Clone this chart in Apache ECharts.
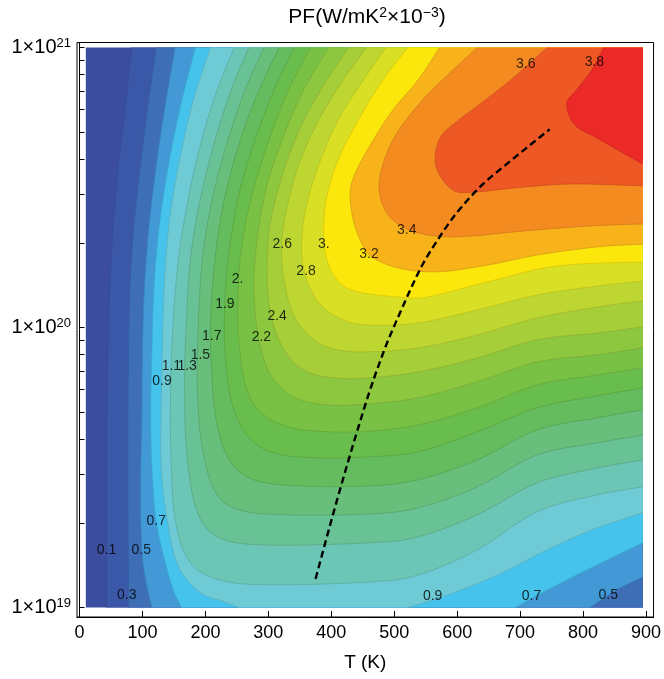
<!DOCTYPE html>
<html>
<head>
<meta charset="utf-8">
<script src="https://cdn.jsdelivr.net/npm/echarts@6/dist/echarts.min.js"></script>
<style>
html, body { margin: 0; padding: 0; background: #fff; }
#chart { width: 664px; height: 679px; }
</style>
</head>
<body>
<div id="chart"></div>
<script>
// Power factor PF (W/mK^2 x 1e-3) versus temperature T (K) and log10 of carrier density n (cm^-3)

// contour levels and the fill of the band above each level (first entry: below the lowest level)
const levels = [0.1, 0.3, 0.5, 0.7, 0.9, 1.1, 1.3, 1.5, 1.7, 1.9, 2.0, 2.2, 2.4, 2.6, 2.8, 3.0, 3.2, 3.4, 3.6, 3.8];
const bandColors = ['#3b4d9e', '#3b58a8', '#3e6fb6', '#4299d5', '#45c3ec', '#6ecbd6', '#6cc6b6', '#69c196',
  '#68be7b', '#64bc5e', '#69bd4c', '#78c144', '#8dc63f', '#a5ce39', '#bed631', '#d8df24', '#fbe70c',
  '#f9b31a', '#f48b20', '#ee5824', '#eb2a27'];

// computed domain: T (K) and log10 n
const tRange = [10, 895];
const nRange = [19, 21];

// contour lines as [T, log10 n]
const pf01 = [[83,21],[72,20.777],[61,20.563],[53,20.349],[48,20.134],[45,19.92],[43,19.563],[43,19]];
const pf03 = [[122,21],[108,20.777],[96,20.563],[86,20.349],[80,20.134],[78,19.92],[77,19.67],[77,19.384],[78,19]];
const pf05 = [[152,21],[135,20.777],[121,20.563],[110,20.349],[103,20.134],[100,19.92],[99,19.67],[97,19.42],[99,19.206],[105,19.099],[115,19]];
const pf05b = [[811,19],[853,19.063],[895,19.109]];
const pf07 = [[184,21],[159,20.777],[140,20.563],[126,20.349],[118,20.134],[115,19.92],[113,19.67],[116,19.456],[122,19.306],[135,19.17],[149,19.063],[162,19]];
const pf07b = [[692,19],[759,19.081],[822,19.152],[895,19.231]];
const pf09 = [[208,21],[181,20.813],[159,20.599],[143,20.384],[135,20.17],[132,19.956],[130,19.741],[130,19.491],[140,19.306],[156,19.152],[190,19.056],[230,19.02],[253,19]];
const pf09b = [[522,19],[585,19.045],[664,19.116],[743,19.206],[822,19.284],[895,19.338]];
const pf11 = [[246,21],[216,20.831],[190,20.634],[171,20.438],[157,20.241],[149,20.027],[145,19.813],[145,19.563],[152,19.313],[175,19.163],[222,19.099],[301,19.081],[459,19.091],[538,19.116],[632,19.206],[727,19.342],[822,19.402],[895,19.431]];
const pf13 = [[269,21],[238,20.831],[211,20.634],[190,20.438],[176,20.241],[170,20.027],[167,19.813],[170,19.563],[186,19.349],[222,19.249],[301,19.223],[459,19.231],[538,19.252],[632,19.331],[727,19.445],[822,19.498],[895,19.527]];
const pf15 = [[293,21],[260,20.831],[231,20.634],[209,20.438],[195,20.241],[189,20.027],[187,19.813],[193,19.599],[214,19.42],[253,19.349],[332,19.331],[459,19.334],[538,19.356],[632,19.431],[727,19.545],[822,19.588],[895,19.616]];
const pf17 = [[317,21],[282,20.831],[253,20.652],[230,20.456],[216,20.259],[209,20.063],[209,19.884],[217,19.67],[238,19.527],[277,19.456],[348,19.434],[459,19.434],[538,19.456],[632,19.527],[727,19.634],[822,19.677],[895,19.706]];
const pf19 = [[342,21],[309,20.849],[279,20.67],[253,20.474],[238,20.277],[231,20.099],[231,19.92],[241,19.741],[266,19.616],[309,19.552],[380,19.534],[459,19.538],[538,19.556],[632,19.627],[727,19.713],[822,19.756],[895,19.784]];
const pf20 = [[367,21],[332,20.849],[301,20.67],[274,20.474],[258,20.295],[252,20.134],[253,19.956],[266,19.777],[293,19.688],[340,19.641],[403,19.627],[459,19.63],[538,19.652],[632,19.713],[727,19.795],[822,19.83],[895,19.856]];
const pf22 = [[396,21],[356,20.849],[325,20.688],[298,20.509],[282,20.313],[277,20.134],[285,19.956],[304,19.83],[340,19.752],[396,19.723],[459,19.727],[538,19.749],[632,19.806],[727,19.877],[822,19.902],[895,19.927]];
const pf24 = [[427,21],[388,20.866],[353,20.724],[325,20.563],[304,20.384],[298,20.206],[304,20.045],[325,19.92],[356,19.848],[403,19.82],[459,19.82],[538,19.841],[632,19.891],[727,19.956],[822,19.98],[895,20.002]];
const pf26 = [[456,21],[419,20.884],[380,20.741],[348,20.58],[329,20.42],[321,20.295],[325,20.17],[340,20.045],[372,19.956],[411,19.92],[459,19.913],[538,19.927],[632,19.973],[727,20.034],[822,20.073],[895,20.095]];
const pf28 = [[487,21],[451,20.884],[411,20.741],[380,20.58],[359,20.42],[353,20.277],[361,20.17],[383,20.081],[419,20.027],[459,20.009],[538,20.016],[632,20.063],[727,20.116],[822,20.148],[895,20.166]];
const pf30 = [[522,21],[482,20.884],[443,20.741],[411,20.599],[392,20.456],[388,20.313],[396,20.223],[414,20.159],[443,20.127],[506,20.109],[553,20.109],[648,20.163],[759,20.22],[895,20.234]];
const pf32 = [[572,21],[538,20.884],[498,20.777],[462,20.652],[437,20.545],[430,20.474],[435,20.384],[446,20.313],[462,20.256],[506,20.213],[569,20.199],[648,20.223],[727,20.259],[822,20.288],[895,20.298]];
const pf34 = [[632,21],[585,20.902],[538,20.795],[498,20.67],[478,20.545],[479,20.456],[498,20.384],[538,20.338],[601,20.324],[707,20.345],[811,20.363],[895,20.37]];
const pf36 = [[743,21],[691,20.895],[643,20.809],[601,20.738],[574,20.681],[565,20.602],[574,20.538],[596,20.488],[628,20.484],[707,20.502],[786,20.513],[895,20.506]];
const pf38 = [[833,21],[814,20.92],[790,20.849],[774,20.799],[787,20.724],[822,20.677],[861,20.627],[895,20.584]];

// pieces of each level, in the order of the levels array
const contourPieces = [[pf01], [pf03], [pf05, pf05b], [pf07, pf07b], [pf09, pf09b], [pf11], [pf13], [pf15],
  [pf17], [pf19], [pf20], [pf22], [pf24], [pf26], [pf28], [pf30], [pf32], [pf34], [pf36], [pf38]];

// optimum-doping path (dashed)
const optimalPath = [[375,19.102],[396,19.277],[416,19.438],[437,19.599],[459,19.759],[479,19.888],[498,19.995],
  [540,20.203],[572,20.323],[601,20.414],[638,20.506],[675,20.577],[711,20.643],[747,20.708]];

// contour labels: [T, log10 n, text]
const contourLabels = [
  [43,19.206,'0.1'], [75,19.045,'0.3'], [98,19.206,'0.5'], [122,19.307,'0.7'], [131,19.807,'0.9'],
  [146,19.862,'1.1'], [171,19.862,'1.3'], [192,19.902,'1.5'], [210,19.970,'1.7'], [231,20.084,'1.9'],
  [251,20.172,'2.'], [289,19.965,'2.2'], [314,20.039,'2.4'], [322,20.299,'2.6'], [360,20.202,'2.8'],
  [388,20.299,'3.'], [460,20.262,'3.2'], [520,20.346,'3.4'], [709,20.939,'3.6'], [818,20.948,'3.8'],
  [561,19.039,'0.9'], [718,19.041,'0.7'], [840,19.045,'0.5']
];

// axis ticks
const tTicks = [0, 100, 200, 300, 400, 500, 600, 700, 800, 900];
const nDecades = [1e19, 1e20, 1e21];
const nMinorTicks = [];
[1e19, 1e20].forEach(d => { for (let k = 1; k < 10; k++) nMinorTicks.push(k * d); });
nMinorTicks.push(1e21);

const FONT = "'Liberation Sans', Arial, sans-serif";

function smoothPath(pts, n) {
  if (pts.length < 3) return pts.slice();
  const out = [];
  for (let i = 0; i < pts.length - 1; i++) {
    const p0 = pts[i - 1] || pts[i], p1 = pts[i], p2 = pts[i + 1], p3 = pts[i + 2] || pts[i + 1];
    for (let k = 0; k < n; k++) {
      const t = k / n, t2 = t * t, t3 = t2 * t;
      out.push([0, 1].map(d => 0.5 * (2 * p1[d] + (p2[d] - p0[d]) * t +
        (2 * p0[d] - 5 * p1[d] + 4 * p2[d] - p3[d]) * t2 +
        (3 * p1[d] - p0[d] - 3 * p2[d] + p3[d]) * t3)));
    }
  }
  out.push(pts[pts.length - 1]);
  return out;
}

function darken(hex, f) {
  const v = parseInt(hex.slice(1), 16);
  const r = Math.round(((v >> 16) & 255) * f), g = Math.round(((v >> 8) & 255) * f), b = Math.round((v & 255) * f);
  return 'rgb(' + r + ',' + g + ',' + b + ')';
}

function renderContours(params, api) {
  const children = [];
  const toPx = p => api.coord(p);
  const bl = api.coord([tRange[0], nRange[0]]);
  const tr = api.coord([tRange[1], nRange[1]]);
  children.push({ type: 'rect', shape: { x: bl[0], y: tr[1], width: tr[0] - bl[0], height: bl[1] - tr[1] },
    style: { fill: bandColors[0] } });
  contourPieces.forEach((pieces, i) => {
    const fill = bandColors[i + 1];
    let poly = [];
    const strokes = [];
    pieces.forEach(piece => {
      const sm = smoothPath(piece.map(toPx), 8);
      strokes.push(sm);
      poly = poly.concat(sm);
    });
    const last = pieces[pieces.length - 1];
    if (last[last.length - 1][1] <= nRange[0]) poly.push(api.coord([tRange[1], nRange[0]]));
    poly.push(api.coord([tRange[1], nRange[1]]));
    children.push({ type: 'polygon', shape: { points: poly }, style: { fill: fill } });
    strokes.forEach(s => children.push({ type: 'polyline', shape: { points: s },
      style: { stroke: darken(fill, 0.86), lineWidth: 0.8, fill: null } }));
  });
  return { type: 'group', children: children };
}

function renderPath(params, api) {
  const pts = smoothPath(optimalPath.map(p => api.coord(p)), 10);
  return { type: 'polyline', shape: { points: pts },
    style: { stroke: '#000', lineWidth: 2.4, lineDash: [7, 4], fill: null } };
}

const chart = echarts.init(document.getElementById('chart'), null, { renderer: 'canvas' });
chart.setOption({
  animation: false,
  backgroundColor: '#fff',
  graphic: [{
    type: 'text', x: 367, y: 17,
    style: {
      text: 'PF(W/mK{s|2}×10{s|−3})',
      fill: '#000', font: '21px ' + FONT, align: 'center', verticalAlign: 'middle',
      rich: { s: { fontSize: 14, fontFamily: FONT, verticalAlign: 'top', lineHeight: 12, fill: '#000' } }
    }
  }],
  grid: { left: 77, top: 42.5, right: 7, bottom: 62, show: true, borderColor: '#000', borderWidth: 1, backgroundColor: 'transparent' },
  xAxis: {
    type: 'value', min: -4, max: 912,
    name: 'T (K)', nameLocation: 'middle', nameGap: 36,
    nameTextStyle: { fontSize: 19, fontFamily: FONT, color: '#000' },
    axisLine: { show: true, lineStyle: { color: '#000', width: 1 } },
    axisTick: { show: true, inside: true, length: 6, customValues: tTicks, lineStyle: { color: '#000' } },
    axisLabel: { customValues: tTicks, fontSize: 18, fontFamily: FONT, color: '#000', margin: 7 },
    splitLine: { show: false }
  },
  yAxis: {
    type: 'value', min: 18.966, max: 21.018,
    axisLine: { show: true, lineStyle: { color: '#000', width: 1 } },
    axisTick: { show: true, inside: true, length: 5, customValues: nMinorTicks.map(v => Math.log10(v)), lineStyle: { color: '#000' } },
    axisLabel: {
      customValues: nDecades.map(v => Math.log10(v)), margin: 6, color: '#000',
      formatter: v => '{b|1×10}{s|' + Math.round(v) + '}',
      rich: {
        b: { fontSize: 20, fontFamily: FONT, color: '#000', lineHeight: 22 },
        s: { fontSize: 13, fontFamily: FONT, color: '#000', verticalAlign: 'top', lineHeight: 14 }
      }
    },
    splitLine: { show: false }
  },
  series: [
    { type: 'custom', silent: true, coordinateSystem: 'cartesian2d', renderItem: renderContours,
      data: [[tRange[0], nRange[0]]], z: 1 },
    { type: 'custom', silent: true, coordinateSystem: 'cartesian2d', renderItem: renderPath,
      data: [optimalPath[0]], z: 5 },
    { type: 'scatter', data: contourLabels, symbolSize: 1, silent: true, z: 6,
      itemStyle: { color: 'rgba(0,0,0,0)' },
      label: { show: true, position: 'inside', formatter: p => p.data[2], color: '#000', fontSize: 14, fontFamily: FONT } }
  ]
});
</script>
</body>
</html>
